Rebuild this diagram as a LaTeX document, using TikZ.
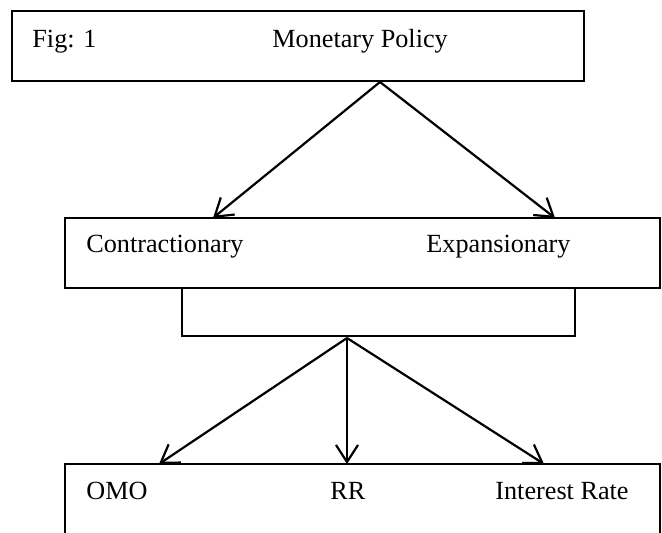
\documentclass[tikz,border=0pt]{standalone}
\usepackage{fontspec}
\setmainfont{Liberation Serif}
\usetikzlibrary{arrows.meta}
\begin{document}
\begin{tikzpicture}[x=0.5pt,y=-0.5pt,
  box/.style={draw=black,line width=1pt,rectangle,inner sep=0pt,minimum width=#1},
  lbl/.style={anchor=base west,inner sep=0pt,font=\fontsize{13.1}{15}\selectfont},
  conn/.style={line width=1.1pt,-{Straight Barb[length=8.5pt,width=11pt,line width=1.1pt]}},
  plain/.style={line width=1.1pt}]
\useasboundingbox (0,0) rectangle (662,533);
% boxes
\node[box=286pt,minimum height=35pt] (top) at (298,46) {};
\node[box=297.5pt,minimum height=35pt] (mid) at (362.5,253) {};
\node[box=297.5pt,minimum height=70pt] (bot) at (362.5,534) {};
% labels
\node[lbl] (fig) at (32,48) {Fig: 1};
\node[lbl] (mp) at (272,48) {Monetary Policy};
\node[lbl] (con) at (86,253) {Contractionary};
\node[lbl] (exp) at (426,253) {Expansionary};
\node[lbl] (omo) at (86,499) {OMO};
\node[lbl] (rr) at (330,499) {RR};
\node[lbl] (ir) at (495,499) {Interest Rate};
% connector points
\coordinate (apex1) at (380,82);
\coordinate (t1) at (213,218);
\coordinate (t2) at (555,218);
\coordinate (b1) at (182,288);
\coordinate (b2) at (182,336);
\coordinate (b3) at (575,336);
\coordinate (b4) at (575,288);
\coordinate (apex2) at (347,338);
\coordinate (u1) at (159,464);
\coordinate (u2) at (347,464);
\coordinate (u3) at (544,464);
% connectors
\draw[conn] (apex1) -- (t1);
\draw[conn] (apex1) -- (t2);
\draw[plain] (b1) -- (b2) -- (b3) -- (b4);
\draw[conn] (apex2) -- (u1);
\draw[conn] (apex2) -- (u2);
\draw[conn] (apex2) -- (u3);
\end{tikzpicture}
\end{document}
